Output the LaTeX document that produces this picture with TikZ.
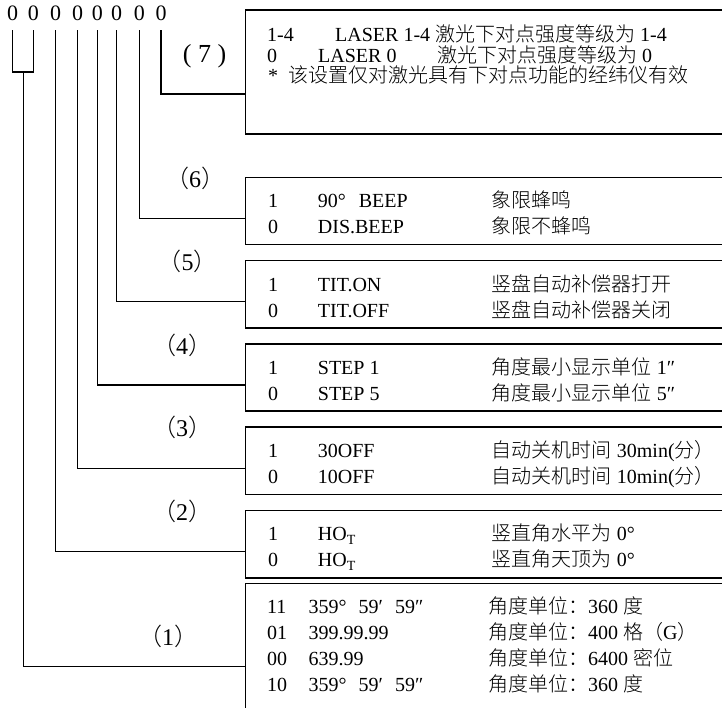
\documentclass[tikz,border=0pt]{standalone}
\usepackage{fontspec}
\setmainfont{Liberation Serif}
\IfFontExistsTF{Noto Sans CJK SC Light}
  {\newfontfamily\cjk{Noto Sans CJK SC Light}}
  {\newfontfamily\cjk{Noto Sans CJK SC}}
\begin{document}
\begin{tikzpicture}[x=1pt,y=-1pt,
  conn/.style={line width=1.2pt},
  box/.style={draw,line width=1.5pt,rectangle,inner sep=0pt,outer sep=0pt,anchor=north west,minimum width=490pt},
  txt/.style={anchor=base west,inner sep=0pt,font=\fontsize{20}{24}\selectfont},
  lbl/.style={anchor=base,inner sep=0pt,font=\fontsize{24}{28}\selectfont},
  lblseven/.style={anchor=base,inner sep=0pt,font=\fontsize{26}{30}\selectfont},
  digit/.style={anchor=base,inner sep=0pt,font=\fontsize{22}{26}\selectfont}]
\useasboundingbox (0,0) rectangle (722,707);
\clip (0,0) rectangle (722,707);

% top digits
\node[digit] (d1) at (12.7,20) {0};
\node[digit] (d2) at (33.3,20) {0};
\node[digit] (d3) at (55.7,20) {0};
\node[digit] (d4) at (77.7,20) {0};
\node[digit] (d5) at (97.3,20) {0};
\node[digit] (d6) at (116.7,20) {0};
\node[digit] (d7) at (139.3,20) {0};
\node[digit] (d8) at (161,20) {0};

% boxes
\node[box,minimum height=124pt] (b7) at (245.5,10) {};
\node[box,minimum height=67.3pt] (b6) at (245.5,177.3) {};
\node[box,minimum height=67.3pt] (b5) at (245.5,260.6) {};
\node[box,minimum height=67.3pt] (b4) at (245.5,343.9) {};
\node[box,minimum height=67.3pt] (b3) at (245.5,427.2) {};
\node[box,minimum height=67.3pt] (b2) at (245.5,510.5) {};
\node[box,minimum height=147pt] (b1) at (245.5,583.3) {};

% labels
\node[lblseven] (l7) at (204.5,62) {( 7 )};
\node[lbl] (l6) at (195,187.3) {{\cjk （}6{\cjk ）}};
\node[lbl] (l5) at (187.5,270.7) {{\cjk （}5{\cjk ）}};
\node[lbl] (l4) at (182,354) {{\cjk （}4{\cjk ）}};
\node[lbl] (l3) at (182,436.7) {{\cjk （}3{\cjk ）}};
\node[lbl] (l2) at (182,520) {{\cjk （}2{\cjk ）}};
\node[lbl] (l1) at (168,645) {{\cjk （}1{\cjk ）}};

% connectors
\coordinate (bk) at (23.3,72);
\draw[conn] ([yshift=-10pt]d1.base) |- (bk) -| ([yshift=-10pt]d2.base);
\draw[conn] (bk) |- ([yshift=-10pt]b1.west);
\draw[conn] ([yshift=-10pt]d3.base) |- ([yshift=-7.5pt]b2.west);
\draw[conn] ([yshift=-10pt]d4.base) |- ([yshift=-7.5pt]b3.west);
\draw[conn] ([yshift=-10pt]d5.base) |- ([yshift=-7.5pt]b4.west);
\draw[conn] ([yshift=-10pt]d6.base) |- ([yshift=-7.5pt]b5.west);
\draw[conn] ([yshift=-10pt]d7.base) |- ([yshift=-7.5pt]b6.west);
\draw[conn] ([yshift=-10pt]d8.base) |- ([yshift=-22pt]b7.west);

% box 7
\node[txt] (t7a) at (267,41.2) {1-4};
\node[txt] (t7b) at (335,41.2) {LASER 1-4};
\node[txt] (t7c) at (435,41.2) {{\cjk 激光下对点强度等级为} 1-4};
\node[txt] (t7d) at (267,62) {0};
\node[txt] (t7e) at (318,62) {LASER 0};
\node[txt] (t7f) at (437,62) {{\cjk 激光下对点强度等级为} 0};
\node[txt] (t7g) at (268,82.7) {*};
\node[txt] (t7h) at (288,82.7) {{\cjk 该设置仅对激光具有下对点功能的经纬仪有效}};

% box 6
\node[txt] (t6a) at (268,207.7) {1};
\node[txt] (t6b) at (317.7,207.7) {90°\hspace{0.65em}BEEP};
\node[txt] (t6c) at (491.7,207.7) {{\cjk 象限蜂鸣}};
\node[txt] (t6d) at (268,233.7) {0};
\node[txt] (t6e) at (317.7,233.7) {DIS.BEEP};
\node[txt] (t6f) at (491.7,233.7) {{\cjk 象限不蜂鸣}};

% box 5
\node[txt] (t5a) at (268,291) {1};
\node[txt] (t5b) at (317.7,291) {TIT.ON};
\node[txt] (t5c) at (491.7,291) {{\cjk 竖盘自动补偿器打开}};
\node[txt] (t5d) at (268,317) {0};
\node[txt] (t5e) at (317.7,317) {TIT.OFF};
\node[txt] (t5f) at (491.7,317) {{\cjk 竖盘自动补偿器关闭}};

% box 4
\node[txt] (t4a) at (268,374.3) {1};
\node[txt] (t4b) at (317.7,374.3) {STEP 1};
\node[txt] (t4c) at (491.7,374.3) {{\cjk 角度最小显示单位} 1″};
\node[txt] (t4d) at (268,400.3) {0};
\node[txt] (t4e) at (317.7,400.3) {STEP 5};
\node[txt] (t4f) at (491.7,400.3) {{\cjk 角度最小显示单位} 5″};

% box 3
\node[txt] (t3a) at (268,457.6) {1};
\node[txt] (t3b) at (317.7,457.6) {30OFF};
\node[txt] (t3c) at (491.7,457.6) {{\cjk 自动关机时间} 30min({\cjk 分）}};
\node[txt] (t3d) at (268,483.6) {0};
\node[txt] (t3e) at (317.7,483.6) {10OFF};
\node[txt] (t3f) at (491.7,483.6) {{\cjk 自动关机时间} 10min({\cjk 分）}};

% box 2
\node[txt] (t2a) at (268,540.9) {1};
\node[txt] (t2b) at (317.7,540.9) {HO\textsubscript{T}};
\node[txt] (t2c) at (491.7,540.9) {{\cjk 竖直角水平为} 0°};
\node[txt] (t2d) at (268,566.9) {0};
\node[txt] (t2e) at (317.7,566.9) {HO\textsubscript{T}};
\node[txt] (t2f) at (491.7,566.9) {{\cjk 竖直角天顶为} 0°};

% box 1
\node[txt] (t1a) at (267,613.7) {11};
\node[txt] (t1b) at (308.5,613.7) {359°\hspace{0.6em}59′\hspace{0.6em}59″};
\node[txt] (t1c) at (488,613.7) {{\cjk 角度单位：}360 {\cjk 度}};
\node[txt] (t1d) at (267,639.7) {01};
\node[txt] (t1e) at (308.5,639.7) {399.99.99};
\node[txt] (t1f) at (488,639.7) {{\cjk 角度单位：}400 {\cjk 格（}G{\cjk ）}};
\node[txt] (t1g) at (267,665.7) {00};
\node[txt] (t1h) at (308.5,665.7) {639.99};
\node[txt] (t1i) at (488,665.7) {{\cjk 角度单位：}6400 {\cjk 密位}};
\node[txt] (t1j) at (267,691.7) {10};
\node[txt] (t1k) at (308.5,691.7) {359°\hspace{0.6em}59′\hspace{0.6em}59″};
\node[txt] (t1l) at (488,691.7) {{\cjk 角度单位：}360 {\cjk 度}};
\end{tikzpicture}
\end{document}
